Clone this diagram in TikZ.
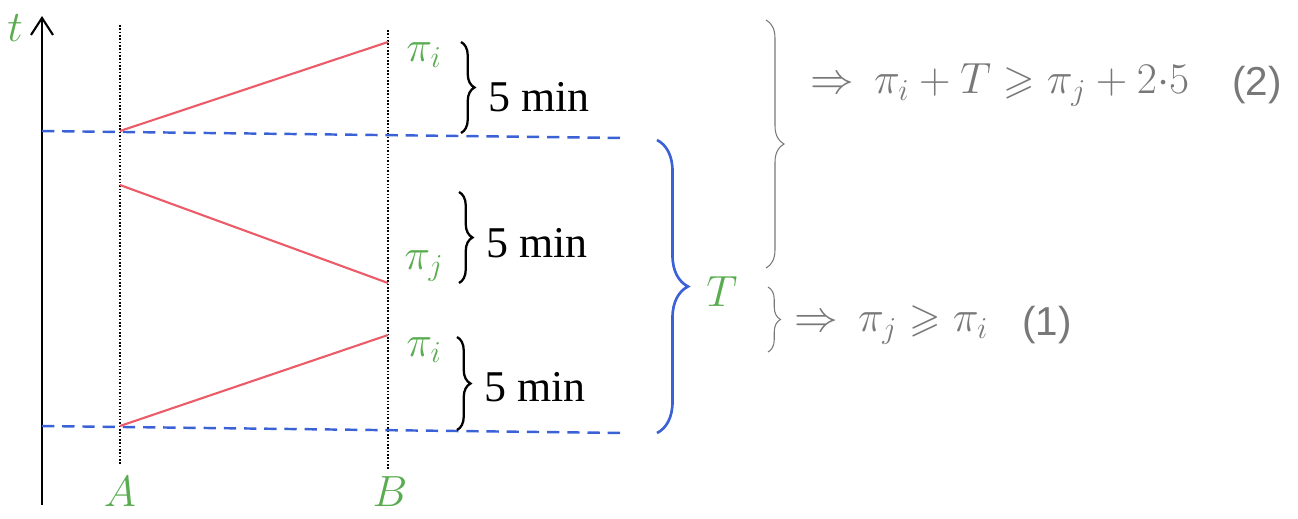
\documentclass[tikz,border=0pt]{standalone}
\usepackage{amsmath,amssymb}
\usepackage{fontspec}
\setmainfont{Liberation Serif}
\setsansfont{Liberation Sans}
\usetikzlibrary{arrows.meta,decorations.pathreplacing,calc}
\definecolor{labgreen}{RGB}{90,172,80}
\definecolor{pathred}{RGB}{236,92,104}
\definecolor{slotblue}{RGB}{58,98,214}
\definecolor{pencil}{RGB}{120,120,120}
\tikzset{
  timeaxis/.style={line width=1.4pt,-{Straight Barb[length=3.4mm,width=4.4mm,line width=1.2pt]}},
  station/.style={densely dotted,line width=0.9pt},
  slotline/.style={draw=slotblue,line width=1.4pt,dash pattern=on 7pt off 4.5pt},
  trip/.style={draw=pathred,line width=1.2pt},
  greenlab/.style={text=labgreen,font=\fontsize{26}{30}\selectfont,inner sep=1pt},
  minlab/.style={font=\fontsize{25}{29}\selectfont,anchor=west,inner sep=1pt},
  minbrace/.style={decorate,decoration={brace,amplitude=0.27cm},line width=1.3pt},
  periodbrace/.style={decorate,decoration={brace,amplitude=0.62cm},draw=slotblue,line width=1.5pt},
  notebrace/.style={decorate,decoration={brace,amplitude=0.36cm},draw=pencil,line width=0.6pt},
  note/.style={text=pencil,font=\sffamily\fontsize{23}{27}\selectfont,anchor=west,inner sep=1pt}
}

\begin{document}
\begin{tikzpicture}[x=0.02cm,y=-0.02cm]
  \useasboundingbox (0,0) rectangle (1298,518);
  % time axis and the two stations
  \coordinate (t0) at (42,505);
  \coordinate (t1) at (42,16);
  \draw[timeaxis] (t0) -- (t1);
  \node[greenlab] (tlab) at (15,28) {$t$};
  \coordinate (atop) at (120,25);
  \coordinate (abot) at (120,465);
  \coordinate (btop) at (388,30);
  \coordinate (bbot) at (388,470);
  \draw[station] (atop) -- (abot);
  \draw[station] (btop) -- (bbot);
  \node[greenlab] (alab) at (120,492) {$A$};
  \node[greenlab] (blab) at (390,492) {$B$};

  % period limits
  \coordinate (s1l) at (42,131);
  \coordinate (s1r) at (625,138);
  \coordinate (s2l) at (42,426);
  \coordinate (s2r) at (622,433);
  \draw[slotline] (s1l) -- (s1r);
  \draw[slotline] (s2l) -- (s2r);

  % trips
  \coordinate (a1) at (120,131);
  \coordinate (b1) at (388,42);
  \coordinate (a2) at (120,185);
  \coordinate (b2) at (388,283);
  \coordinate (a3) at (120,426);
  \coordinate (b3) at (388,335);
  \draw[trip] (a1) -- (b1);
  \draw[trip] (a2) -- (b2);
  \draw[trip] (a3) -- (b3);
  \node[greenlab] (pi1) at (424,55) {$\pi_i$};
  \node[greenlab] (pj) at (424,266) {$\pi_j$};
  \node[greenlab] (pi2) at (424,350) {$\pi_i$};

  % 5 min braces
  \draw[minbrace] (461,42) -- (461,133);
  \node[minlab] (m1) at (486,97) {5 min};
  \draw[minbrace] (459,192) -- (459,283);
  \node[minlab] (m2) at (484,243) {5 min};
  \draw[minbrace] (457,337) -- (457,430);
  \node[minlab] (m3) at (482,387) {5 min};

  % period T
  \draw[periodbrace] (657,140) -- (657,433);
  \node[greenlab] (tper) at (722,292) {$T$};

  % pencil notes
  \draw[notebrace] (766,20) -- (766,268);
  \node[note] (eq2) at (808,85) {$\Rightarrow$\enspace$\pi_i+T\geqslant\pi_j+2{\cdotp}5$};
  \node[note] (n2) at (1230,85) {(2)};
  \draw[notebrace,decoration={brace,amplitude=0.25cm}] (768,287) -- (768,352);
  \node[note] (eq1) at (792,325) {$\Rightarrow$\enspace$\pi_j\geqslant\pi_i$};
  \node[note] (n1) at (1020,325) {(1)};
\end{tikzpicture}
\end{document}
